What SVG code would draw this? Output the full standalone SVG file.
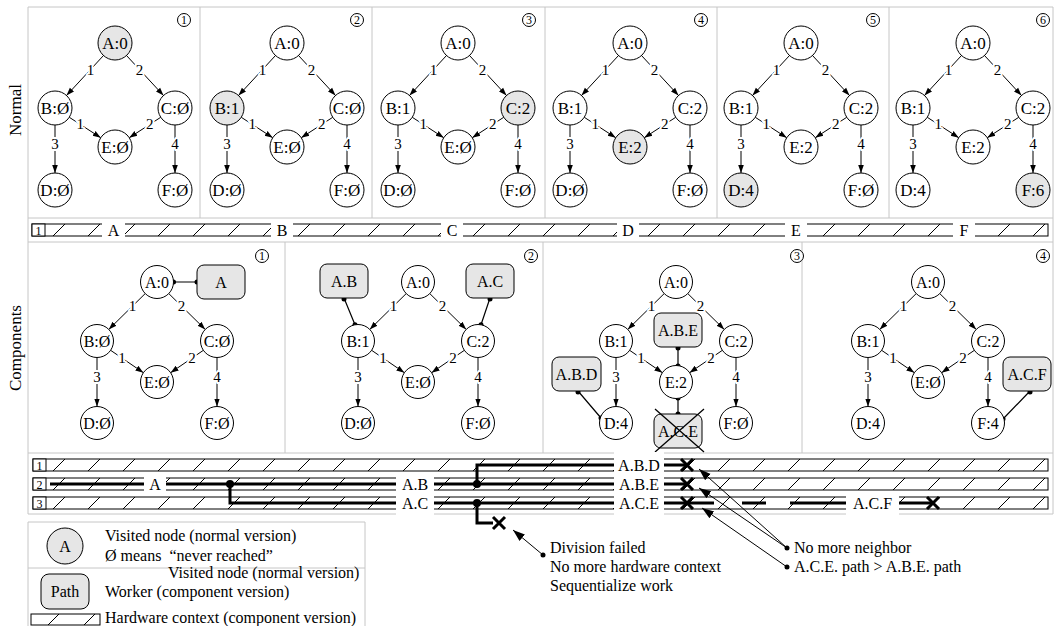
<svg xmlns="http://www.w3.org/2000/svg" width="1055" height="626" viewBox="0 0 1055 626">
<style>
text{font-family:"Liberation Serif","DejaVu Serif",serif;fill:#000}
.fr{fill:none;stroke:#c6c6c6;stroke-width:1}
.nd circle{fill:#fff;stroke:#000;stroke-width:1}
.nd.v circle{fill:#e6e6e6}
.nd text{font-size:17px;text-anchor:middle;dominant-baseline:central}
.cp .nd text{font-size:16px}
.e{stroke:#000;stroke-width:1;fill:none;marker-end:url(#ar)}
.el{font-size:15px;text-anchor:middle;dominant-baseline:central;stroke:#fff;stroke-width:4;stroke-linejoin:round;paint-order:stroke}
.wk rect{fill:#e6e6e6;stroke:#000;stroke-width:1}
.wk text{font-size:16px;text-anchor:middle;dominant-baseline:central}
.num circle{fill:#fff;stroke:#000;stroke-width:1}
.num text{font-size:12px;text-anchor:middle;dominant-baseline:central}
.lk{stroke:#000;stroke-width:1.2;fill:none}
.dot{fill:#000}
.bar{stroke:#000;stroke-width:1}
.idx{fill:#fff;stroke:#000;stroke-width:1}
.it{font-size:12px;text-anchor:middle}
.gap{fill:#fff}
.bl{font-size:16px;text-anchor:middle}
.thk{stroke:#000;stroke-width:3;fill:none}
.xm{stroke:#000;stroke-width:3;fill:none}
.an{stroke:#000;stroke-width:1;fill:none;marker-end:url(#ab)}
.at{font-size:16px}
.side{font-size:17px;text-anchor:middle}
</style>
<defs>
<marker id="ar" viewBox="0 0 10 10" refX="10" refY="5" markerWidth="8" markerHeight="8" markerUnits="userSpaceOnUse" orient="auto"><path d="M0,1.5 L10,5 L0,8.5z"/></marker>
<marker id="ab" viewBox="0 0 10 10" refX="10" refY="5" markerWidth="12" markerHeight="12" markerUnits="userSpaceOnUse" orient="auto"><path d="M0,1.5 L10,5 L0,8.5z"/></marker>
<pattern id="hm" patternUnits="userSpaceOnUse" x="18" y="224" width="35" height="12"><rect width="35" height="12" fill="#fff"/><path d="M0,12 L12,0" stroke="#000" stroke-width="1"/></pattern>
<pattern id="hb" patternUnits="userSpaceOnUse" x="18" y="459" width="35" height="19"><rect width="35" height="19" fill="#fff"/><path d="M0,12 L12,0" stroke="#000" stroke-width="1"/></pattern>
<pattern id="hl" patternUnits="userSpaceOnUse" x="48" y="614" width="36" height="11"><rect width="36" height="11" fill="#fff"/><path d="M0,11 L11,0" stroke="#000" stroke-width="1"/></pattern>
<path id="xm" class="xm" d="M-6,-6 L6,6 M-6,6 L6,-6"/>
<g id="eT">
<line class="e" x1="-11.5" y1="12.5" x2="-48.5" y2="52.5"/>
<line class="e" x1="11.5" y1="12.5" x2="48.5" y2="52.5"/>
<line class="e" x1="-45.75" y1="74.27" x2="-14.25" y2="94.73"/>
<line class="e" x1="45.75" y1="74.27" x2="14.25" y2="94.73"/>
<line class="e" x1="-60" y1="82" x2="-60" y2="130"/>
<line class="e" x1="60" y1="82" x2="60" y2="130"/>
<text class="el" x="-24.5" y="26.5">1</text>
<text class="el" x="24.5" y="26.5">2</text>
<text class="el" x="-34.7" y="81.4">1</text>
<text class="el" x="34.7" y="81.4">2</text>
<text class="el" x="-60" y="101">3</text>
<text class="el" x="60" y="101">4</text>
</g>
<g id="eC">
<line class="e" x1="-11.77" y1="11.57" x2="-48.23" y2="47.43"/>
<line class="e" x1="11.77" y1="11.57" x2="48.23" y2="47.43"/>
<line class="e" x1="-46.38" y1="68.31" x2="-13.62" y2="90.69"/>
<line class="e" x1="46.38" y1="68.31" x2="13.62" y2="90.69"/>
<line class="e" x1="-60" y1="75.5" x2="-60" y2="124.5"/>
<line class="e" x1="60" y1="75.5" x2="60" y2="124.5"/>
<text class="el" x="-24.5" y="24.1">1</text>
<text class="el" x="24.5" y="24.1">2</text>
<text class="el" x="-34.9" y="76.1">1</text>
<text class="el" x="34.9" y="76.1">2</text>
<text class="el" x="-60" y="95">3</text>
<text class="el" x="60" y="95">4</text>
</g>
</defs>

<rect width="1055" height="626" fill="#fff"/>
<path class="fr" d="M28,7 H1053 V514 H28 Z M28,218 H1053 M28,242 H1053 M28,453 H1053 M200,7 V218 M372,7 V218 M545,7 V218 M717,7 V218 M889,7 V218 M285,242 V453 M543,242 V453 M802,242 V453"/>
<text class="side" transform="translate(21 110) rotate(-90)">Normal</text>
<text class="side" transform="translate(21 348) rotate(-90)">Components</text>

<g id="connectors">
<use href="#eT" x="115" y="43"/>
<use href="#eT" x="287" y="43"/>
<use href="#eT" x="458" y="43"/>
<use href="#eT" x="630" y="43"/>
<use href="#eT" x="801" y="43"/>
<use href="#eT" x="973" y="43"/>
<use href="#eC" x="157" y="282"/>
<use href="#eC" x="418" y="282"/>
<use href="#eC" x="676" y="282"/>
<use href="#eC" x="928" y="282"/>
<path class="lk" d="M173.5,282 H197 M344,298 L355,324.8 M490,298 L481,324.8 M678,347 V366 M678,398 V414 M578,391 L601,418 M1030,391 L1003,419"/>
<g class="dot">
<circle cx="173.5" cy="282" r="2.5"/><circle cx="197" cy="282" r="2.5"/>
<circle cx="344" cy="299" r="2.5"/><circle cx="355" cy="324.8" r="2.5"/>
<circle cx="490" cy="299" r="2.5"/><circle cx="481" cy="324.8" r="2.5"/>
<circle cx="678" cy="348" r="2.5"/><circle cx="678" cy="366" r="2.5"/>
<circle cx="678" cy="398" r="2.5"/><circle cx="678" cy="414" r="2.5"/>
<circle cx="578" cy="392" r="2.5"/><circle cx="601" cy="418" r="2.5"/>
<circle cx="1030" cy="392" r="2.5"/><circle cx="1003" cy="419" r="2.5"/>
</g>
</g>

<g id="normal">
<g id="n1-A" class="nd v" transform="translate(115 43)"><circle r="17"/><text>A:0</text></g>
<g id="n1-B" class="nd" transform="translate(55 108)"><circle r="17"/><text>B:Ø</text></g>
<g id="n1-C" class="nd" transform="translate(175 108)"><circle r="17"/><text>C:Ø</text></g>
<g id="n1-E" class="nd" transform="translate(115 147)"><circle r="17"/><text>E:Ø</text></g>
<g id="n1-D" class="nd" transform="translate(55 190)"><circle r="17"/><text>D:Ø</text></g>
<g id="n1-F" class="nd" transform="translate(175 190)"><circle r="17"/><text>F:Ø</text></g>

<g id="n2-A" class="nd" transform="translate(287 43)"><circle r="17"/><text>A:0</text></g>
<g id="n2-B" class="nd v" transform="translate(227 108)"><circle r="17"/><text>B:1</text></g>
<g id="n2-C" class="nd" transform="translate(347 108)"><circle r="17"/><text>C:Ø</text></g>
<g id="n2-E" class="nd" transform="translate(287 147)"><circle r="17"/><text>E:Ø</text></g>
<g id="n2-D" class="nd" transform="translate(227 190)"><circle r="17"/><text>D:Ø</text></g>
<g id="n2-F" class="nd" transform="translate(347 190)"><circle r="17"/><text>F:Ø</text></g>

<g id="n3-A" class="nd" transform="translate(458 43)"><circle r="17"/><text>A:0</text></g>
<g id="n3-B" class="nd" transform="translate(398 108)"><circle r="17"/><text>B:1</text></g>
<g id="n3-C" class="nd v" transform="translate(518 108)"><circle r="17"/><text>C:2</text></g>
<g id="n3-E" class="nd" transform="translate(458 147)"><circle r="17"/><text>E:Ø</text></g>
<g id="n3-D" class="nd" transform="translate(398 190)"><circle r="17"/><text>D:Ø</text></g>
<g id="n3-F" class="nd" transform="translate(518 190)"><circle r="17"/><text>F:Ø</text></g>

<g id="n4-A" class="nd" transform="translate(630 43)"><circle r="17"/><text>A:0</text></g>
<g id="n4-B" class="nd" transform="translate(570 108)"><circle r="17"/><text>B:1</text></g>
<g id="n4-C" class="nd" transform="translate(690 108)"><circle r="17"/><text>C:2</text></g>
<g id="n4-E" class="nd v" transform="translate(630 147)"><circle r="17"/><text>E:2</text></g>
<g id="n4-D" class="nd" transform="translate(570 190)"><circle r="17"/><text>D:Ø</text></g>
<g id="n4-F" class="nd" transform="translate(690 190)"><circle r="17"/><text>F:Ø</text></g>

<g id="n5-A" class="nd" transform="translate(801 43)"><circle r="17"/><text>A:0</text></g>
<g id="n5-B" class="nd" transform="translate(741 108)"><circle r="17"/><text>B:1</text></g>
<g id="n5-C" class="nd" transform="translate(861 108)"><circle r="17"/><text>C:2</text></g>
<g id="n5-E" class="nd" transform="translate(801 147)"><circle r="17"/><text>E:2</text></g>
<g id="n5-D" class="nd v" transform="translate(741 190)"><circle r="17"/><text>D:4</text></g>
<g id="n5-F" class="nd" transform="translate(861 190)"><circle r="17"/><text>F:Ø</text></g>

<g id="n6-A" class="nd" transform="translate(973 43)"><circle r="17"/><text>A:0</text></g>
<g id="n6-B" class="nd" transform="translate(913 108)"><circle r="17"/><text>B:1</text></g>
<g id="n6-C" class="nd" transform="translate(1033 108)"><circle r="17"/><text>C:2</text></g>
<g id="n6-E" class="nd" transform="translate(973 147)"><circle r="17"/><text>E:2</text></g>
<g id="n6-D" class="nd" transform="translate(913 190)"><circle r="17"/><text>D:4</text></g>
<g id="n6-F" class="nd v" transform="translate(1033 190)"><circle r="17"/><text>F:6</text></g>

<g class="num" transform="translate(184 20)"><circle r="6.5"/><text>1</text></g>
<g class="num" transform="translate(357 20)"><circle r="6.5"/><text>2</text></g>
<g class="num" transform="translate(529 20)"><circle r="6.5"/><text>3</text></g>
<g class="num" transform="translate(701 20)"><circle r="6.5"/><text>4</text></g>
<g class="num" transform="translate(873 20)"><circle r="6.5"/><text>5</text></g>
<g class="num" transform="translate(1043 20)"><circle r="6.5"/><text>6</text></g>
</g>

<g id="timeline">
<rect class="bar" x="32" y="224" width="1016" height="12" fill="url(#hm)"/>
<rect class="idx" x="32" y="224" width="13" height="12"/><text class="it" x="38.5" y="234.5">1</text>
<g class="gap">
<rect x="102" y="219" width="23" height="22"/><rect x="271" y="219" width="22" height="22"/><rect x="441" y="219" width="22" height="22"/>
<rect x="617" y="219" width="22" height="22"/><rect x="785" y="219" width="22" height="22"/><rect x="953" y="219" width="22" height="22"/>
</g>
<text class="bl" x="113.5" y="235.5">A</text><text class="bl" x="282" y="235.5">B</text><text class="bl" x="452" y="235.5">C</text>
<text class="bl" x="628" y="235.5">D</text><text class="bl" x="796" y="235.5">E</text><text class="bl" x="964" y="235.5">F</text>
</g>

<g id="components" class="cp">
<g id="c1-A" class="nd" transform="translate(157 282)"><circle r="16.5"/><text>A:0</text></g>
<g id="c1-B" class="nd" transform="translate(97 341)"><circle r="16.5"/><text>B:Ø</text></g>
<g id="c1-C" class="nd" transform="translate(217 341)"><circle r="16.5"/><text>C:Ø</text></g>
<g id="c1-E" class="nd" transform="translate(157 382)"><circle r="16.5"/><text>E:Ø</text></g>
<g id="c1-D" class="nd" transform="translate(97 423)"><circle r="16.5"/><text>D:Ø</text></g>
<g id="c1-F" class="nd" transform="translate(217 423)"><circle r="16.5"/><text>F:Ø</text></g>
<g id="w1-A" class="wk"><rect x="197" y="265" width="48" height="34" rx="7"/><text x="221" y="282">A</text></g>

<g id="c2-A" class="nd" transform="translate(418 282)"><circle r="16.5"/><text>A:0</text></g>
<g id="c2-B" class="nd" transform="translate(358 341)"><circle r="16.5"/><text>B:1</text></g>
<g id="c2-C" class="nd" transform="translate(478 341)"><circle r="16.5"/><text>C:2</text></g>
<g id="c2-E" class="nd" transform="translate(418 382)"><circle r="16.5"/><text>E:Ø</text></g>
<g id="c2-D" class="nd" transform="translate(358 423)"><circle r="16.5"/><text>D:Ø</text></g>
<g id="c2-F" class="nd" transform="translate(478 423)"><circle r="16.5"/><text>F:Ø</text></g>
<g id="w2-AB" class="wk"><rect x="320" y="264" width="48" height="34" rx="7"/><text x="344" y="281">A.B</text></g>
<g id="w2-AC" class="wk"><rect x="466" y="264" width="48" height="34" rx="7"/><text x="490" y="281">A.C</text></g>

<g id="c3-A" class="nd" transform="translate(676 282)"><circle r="16.5"/><text>A:0</text></g>
<g id="c3-B" class="nd" transform="translate(616 341)"><circle r="16.5"/><text>B:1</text></g>
<g id="c3-C" class="nd" transform="translate(736 341)"><circle r="16.5"/><text>C:2</text></g>
<g id="c3-E" class="nd" transform="translate(676 382)"><circle r="16.5"/><text>E:2</text></g>
<g id="c3-D" class="nd" transform="translate(616 423)"><circle r="16.5"/><text>D:4</text></g>
<g id="c3-F" class="nd" transform="translate(736 423)"><circle r="16.5"/><text>F:Ø</text></g>
<g id="w3-ABE" class="wk"><rect x="654" y="313" width="48" height="34" rx="7"/><text x="678" y="330">A.B.E</text></g>
<g id="w3-ABD" class="wk"><rect x="552" y="357" width="49" height="34" rx="7"/><text x="576.5" y="374">A.B.D</text></g>
<g id="w3-ACE" class="wk"><rect x="654" y="414" width="48" height="34" rx="7"/><text x="678" y="431">A.C.E</text><path d="M655,409 L704,452 M655,452 L704,409" stroke="#000" stroke-width="1.3"/></g>

<g id="c4-A" class="nd" transform="translate(928 282)"><circle r="16.5"/><text>A:0</text></g>
<g id="c4-B" class="nd" transform="translate(868 341)"><circle r="16.5"/><text>B:1</text></g>
<g id="c4-C" class="nd" transform="translate(988 341)"><circle r="16.5"/><text>C:2</text></g>
<g id="c4-E" class="nd" transform="translate(928 382)"><circle r="16.5"/><text>E:Ø</text></g>
<g id="c4-D" class="nd" transform="translate(868 423)"><circle r="16.5"/><text>D:4</text></g>
<g id="c4-F" class="nd" transform="translate(988 423)"><circle r="16.5"/><text>F:4</text></g>
<g id="w4-ACF" class="wk"><rect x="1003" y="357" width="48" height="34" rx="7"/><text x="1027" y="374">A.C.F</text></g>

<g class="num" transform="translate(262 256)"><circle r="6.5"/><text>1</text></g>
<g class="num" transform="translate(531 256)"><circle r="6.5"/><text>2</text></g>
<g class="num" transform="translate(797 256)"><circle r="6.5"/><text>3</text></g>
<g class="num" transform="translate(1043 256)"><circle r="6.5"/><text>4</text></g>
</g>

<g id="contexts">
<rect class="bar" x="33" y="459" width="1015" height="12" fill="url(#hb)"/>
<rect class="bar" x="33" y="478" width="1015" height="12" fill="url(#hb)"/>
<rect class="bar" x="33" y="497" width="1015" height="12" fill="url(#hb)"/>
<rect class="idx" x="33" y="459" width="13" height="12"/><text class="it" x="39.5" y="469.5">1</text>
<rect class="idx" x="33" y="478" width="13" height="12"/><text class="it" x="39.5" y="488.5">2</text>
<rect class="idx" x="33" y="497" width="13" height="12"/><text class="it" x="39.5" y="507.5">3</text>
<path class="thk" d="M50,484 H144 M166,484 H396 M230,484 V503 H396 M434,484 H614 M477,484 V465 H614 M434,503 H614 M477,503 V523 H493 M664,465 H688 M664,484 H688 M664,503 H714 M742,503 H766 M790,503 H846 M899,503 H933"/>
<g class="dot"><circle cx="230" cy="484" r="4"/><circle cx="477" cy="484" r="4"/><circle cx="477" cy="503" r="4"/></g>
<use href="#xm" x="687" y="465"/><use href="#xm" x="687" y="484"/><use href="#xm" x="687" y="503"/>
<use href="#xm" x="933" y="503"/><use href="#xm" x="499" y="523"/>
<g class="gap">
<rect x="144" y="477" width="22" height="14"/>
<rect x="396" y="477" width="38" height="38"/>
<rect x="614" y="452" width="50" height="63"/>
<rect x="846" y="496" width="53" height="19"/>
</g>
<text class="bl" x="155" y="490">A</text>
<text class="bl" x="415" y="490">A.B</text><text class="bl" x="415" y="509">A.C</text>
<text class="bl" x="639" y="471">A.B.D</text><text class="bl" x="639" y="490">A.B.E</text><text class="bl" x="639" y="509">A.C.E</text>
<text class="bl" x="872.5" y="509">A.C.F</text>
</g>

<g id="annotations">
<path class="an" d="M543,555 L513,530"/>
<path class="an" d="M787,548 L699,469"/>
<path class="an" d="M787,548 L699,488"/>
<path class="an" d="M787,567 L702,508"/>
<g class="dot"><circle cx="543" cy="555" r="2.5"/><circle cx="787" cy="548" r="2.5"/><circle cx="787" cy="567" r="2.5"/></g>
<text class="at" x="550" y="553">Division failed</text>
<text class="at" x="550" y="572">No more hardware context</text>
<text class="at" x="550" y="591">Sequentialize work</text>
<text class="at" x="794" y="553">No more neighbor</text>
<text class="at" x="794" y="572">A.C.E. path &gt; A.B.E. path</text>
</g>

<g id="legend">
<path class="fr" d="M28,640 V522 H365 V640 M28,568 H365"/>
<g id="lg-node" class="nd v" transform="translate(65 546)"><circle r="18"/><text style="font-size:16px">A</text></g>
<text class="at" x="105" y="541">Visited node (normal version)</text>
<text class="at" x="105" y="561" xml:space="preserve">Ø means  “never reached”</text>
<text class="at" x="168" y="578">Visited node (normal version)</text>
<g id="lg-worker" class="wk"><rect x="41" y="574" width="48" height="35" rx="8"/><text x="65" y="591.5">Path</text></g>
<text class="at" x="105" y="597">Worker (component version)</text>
<rect x="31" y="614" width="69" height="11" fill="url(#hl)" stroke="#000"/>
<text class="at" x="105" y="623">Hardware context (component version)</text>
</g>
</svg>
